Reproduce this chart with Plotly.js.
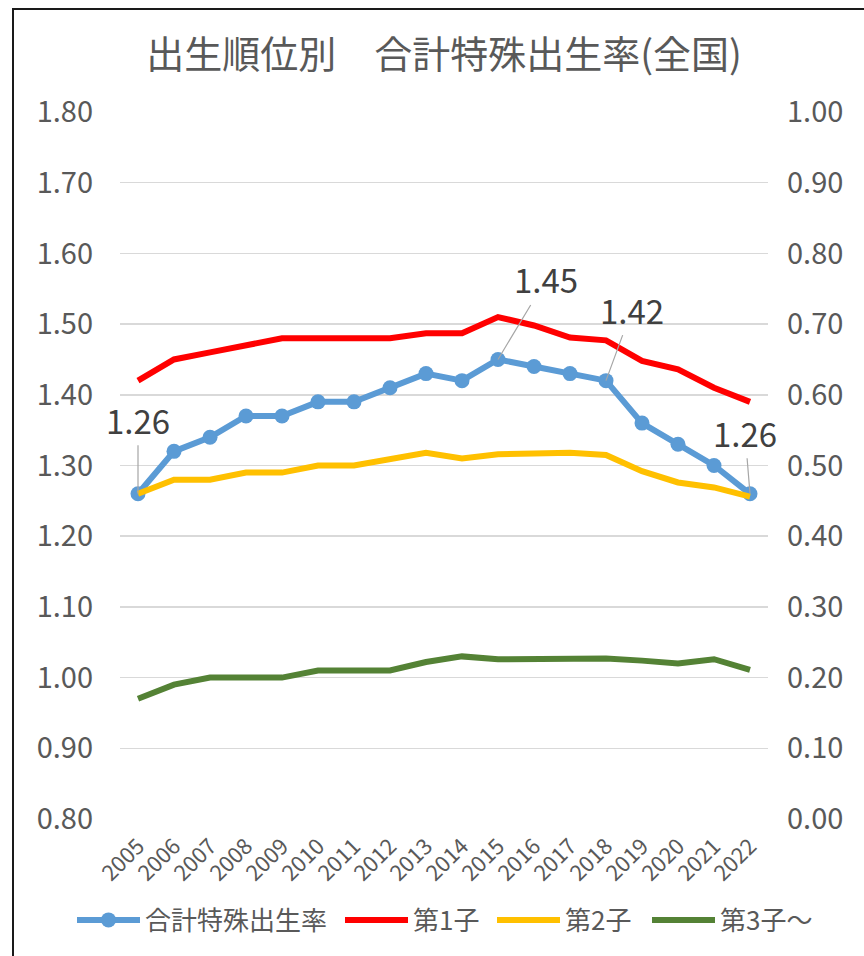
<!DOCTYPE html>
<html>
<head>
<meta charset="utf-8">
<script src="https://cdn.plot.ly/plotly-3.0.1.min.js"></script>
<style>
  html, body { margin: 0; padding: 0; background: #fff; }
  #wrap { position: relative; width: 864px; height: 956px; overflow: hidden; }
  #chart { position: absolute; left: 0; top: 0; width: 864px; height: 956px; }
  #frame { position: absolute; left: 12px; top: 8px; width: 900px; height: 1000px;
           border-left: 2px solid #1a1a1a; border-top: 2px solid #1a1a1a; pointer-events: none; }
</style>
</head>
<body>
<div id="wrap"><div id="chart"></div><div id="frame"></div></div>
<script>
const years = ["2005","2006","2007","2008","2009","2010","2011","2012","2013","2014","2015","2016","2017","2018","2019","2020","2021","2022"];
const totalTFR = [1.26,1.32,1.34,1.37,1.37,1.39,1.39,1.41,1.43,1.42,1.45,1.44,1.43,1.42,1.36,1.33,1.30,1.26];
const firstChild = [0.62,0.65,0.66,0.67,0.68,0.68,0.68,0.68,0.687,0.687,0.71,0.698,0.681,0.677,0.648,0.636,0.61,0.59];
const secondChild = [0.46,0.48,0.48,0.49,0.49,0.50,0.50,0.51,0.518,0.51,0.516,0.517,0.518,0.515,0.492,0.476,0.469,0.456];
const thirdChild = [0.17,0.19,0.20,0.20,0.20,0.21,0.21,0.21,0.222,0.23,0.226,0.227,0.228,0.227,0.224,0.22,0.226,0.211];
const seriesNames = ["合計特殊出生率","第1子","第2子","第3子～"];
const labelledIdx = [0, 10, 13, 17];
const labelOffsets = [[0,-74],[48,-80],[26,-71],[-5,-61]];

const FONT = '"Noto Sans CJK JP", "Noto Sans", sans-serif';
const legendX = [72, 340, 492, 647];

const traces = [
  {x: years, y: totalTFR, name: seriesNames[0], type: 'scatter', mode: 'lines+markers',
   line: {color: '#5B9BD5', width: 6}, marker: {color: '#5B9BD5', size: 15}, yaxis: 'y', legend: 'legend'},
  {x: years, y: firstChild, name: seriesNames[1], type: 'scatter', mode: 'lines',
   line: {color: '#FF0000', width: 6}, yaxis: 'y2', legend: 'legend2'},
  {x: years, y: secondChild, name: seriesNames[2], type: 'scatter', mode: 'lines',
   line: {color: '#FFC000', width: 6}, yaxis: 'y2', legend: 'legend3'},
  {x: years, y: thirdChild, name: seriesNames[3], type: 'scatter', mode: 'lines',
   line: {color: '#548235', width: 6}, yaxis: 'y2', legend: 'legend4'}
];

const annotations = labelledIdx.map((i, k) => ({
  x: i, y: totalTFR[i], xref: 'x', yref: 'y',
  text: totalTFR[i].toFixed(2), showarrow: true, arrowhead: 0, arrowwidth: 1.2,
  arrowcolor: '#A6A6A6', ax: labelOffsets[k][0], ay: labelOffsets[k][1], standoff: 0,
  font: {family: FONT, size: 33, color: '#404040'}
}));

function legendAt(px) {
  return {orientation: 'h', xref: 'container', x: px/864, xanchor: 'left', yref: 'container',
          y: 1 - 920/956, yanchor: 'middle', font: {family: FONT, size: 26, color: '#595959'},
          itemwidth: 63, bgcolor: 'rgba(0,0,0,0)'};
}

const layout = {
  width: 864, height: 956,
  margin: {l: 120, r: 96, t: 112, b: 137},
  paper_bgcolor: '#ffffff', plot_bgcolor: '#ffffff',
  font: {family: FONT, color: '#595959'},
  title: {text: '出生順位別　合計特殊出生率(全国)', font: {family: FONT, size: 38, color: '#595959'},
          x: 0.5, xref: 'paper', xanchor: 'center', y: 1 - 55/956, yref: 'container', yanchor: 'middle'},
  showlegend: true,
  legend: legendAt(legendX[0]),
  legend2: legendAt(legendX[1]),
  legend3: legendAt(legendX[2]),
  legend4: legendAt(legendX[3]),
  xaxis: {type: 'category', range: [-0.5, 17.5], tickangle: -45, showgrid: false, zeroline: false,
          showline: false, ticks: '', tickfont: {family: FONT, size: 22, color: '#595959'}, ticklabelstandoff: 9},
  yaxis: {range: [0.8, 1.8], dtick: 0.1, tick0: 0.8, tickformat: '.2f', gridcolor: '#D9D9D9', gridwidth: 1.5,
          zeroline: false, showline: false, ticks: '', tickfont: {family: FONT, size: 29, color: '#595959'},
          ticklabelstandoff: 26},
  yaxis2: {range: [0, 1.0], dtick: 0.1, tick0: 0, tickformat: '.2f', overlaying: 'y', side: 'right',
           showgrid: false, zeroline: false, showline: false, ticks: '',
           tickfont: {family: FONT, size: 29, color: '#595959'}, ticklabelstandoff: 18},
  annotations: annotations
};

Plotly.newPlot('chart', traces, layout, {staticPlot: true, displayModeBar: false});
</script>
</body>
</html>
